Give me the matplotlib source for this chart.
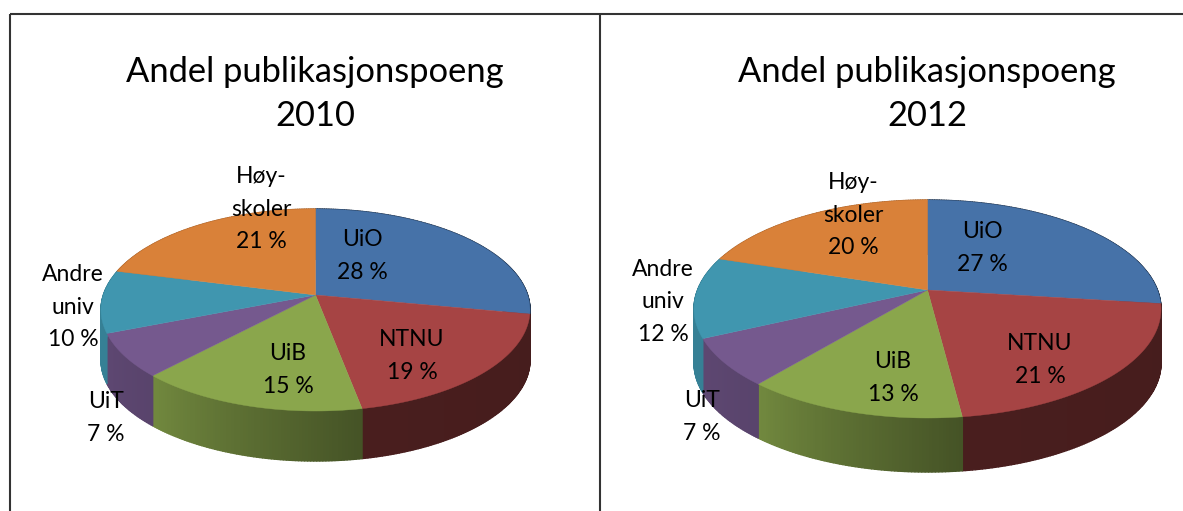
import numpy as np
import matplotlib
matplotlib.use("Agg")
import matplotlib.pyplot as plt
from matplotlib.collections import PolyCollection
from matplotlib.colors import to_rgb

plt.rcParams['font.family'] = ['Lato', 'DejaVu Sans']

# ---- data ----
categories = ["UiO", "NTNU", "UiB", "UiT", "Andre\nuniv", "Høy-\nskoler"]
values_2010 = [28, 19, 15, 7, 10, 21]
values_2012 = [27, 21, 13, 7, 12, 20]
title_2010 = "Andel publikasjonspoeng\n2010"
title_2012 = "Andel publikasjonspoeng\n2012"

# ---- style ----
colors = ["#4672a8", "#a64444", "#8aa64c", "#75598e", "#4096af", "#d98139"]
side_shades = [(0.45, 0.45), (0.42, 0.44), (0.50, 0.82), (0.76, 0.80), (0.85, 0.85), (0.8, 0.8)]

W, H = 1183, 511
fig = plt.figure(figsize=(W / 100, H / 100), dpi=100)
ax = fig.add_axes([0, 0, 1, 1])
ax.set_xlim(0, W)
ax.set_ylim(H, 0)
ax.axis("off")


def project(theta, cx, cy, half_w, back, front):
    """Perspective mapping of the unit circle; theta clockwise from 12 o'clock."""
    k = (front - back) / (front + back)
    ry = back * (1 + k)
    rx = half_w * np.sqrt(1 - k ** 2)
    x, y = np.sin(theta), np.cos(theta)
    w = 1 + k * y
    return cx + rx * x / w, cy - ry * y / w


def draw_pie(values, cx, cy, half_w, back, front, depth):
    fractions = np.asarray(values, float) / np.sum(values)
    edges = np.concatenate([[0], np.cumsum(fractions)]) * 2 * np.pi
    side_polys, side_cols = [], []
    tops = []
    for i, col in enumerate(colors):
        n = max(int((edges[i + 1] - edges[i]) / 0.012), 2)
        th = np.linspace(edges[i], edges[i + 1], n)
        px, py = project(th, cx, cy, half_w, back, front)
        tops.append(np.vstack([[cx, cy], np.column_stack([px, py])]))
        base = np.array(to_rgb(col))
        shades = np.linspace(side_shades[i][0], side_shades[i][1], n - 1)
        for j in range(n - 1):
            side_polys.append([(px[j], py[j]), (px[j + 1], py[j + 1]),
                               (px[j + 1], py[j + 1] + depth), (px[j], py[j] + depth)])
            side_cols.append(base * shades[j])
    ax.add_collection(PolyCollection(side_polys, facecolors=side_cols,
                                     edgecolors=side_cols, linewidths=1.0))
    ax.add_collection(PolyCollection(tops, facecolors=colors, edgecolors=colors,
                                     linewidths=0.3))


draw_pie(values_2010, 315.5, 295, 214.5, 86, 116, 50)
draw_pie(values_2012, 927.5, 290, 233.5, 90, 128, 54)

label_pos_2010 = [(362, 256), (412, 356), (288, 370), (106, 418), (73, 307), (261, 209)]
label_pos_2012 = [(982, 248), (1040, 360), (893, 378), (702, 417), (663, 302), (853, 215)]

for vals, pos in ((values_2010, label_pos_2010), (values_2012, label_pos_2012)):
    for cat, v, (x, y) in zip(categories, vals, pos):
        ax.text(x, y, f"{cat}\n{v} %", ha="center", va="center", fontsize=16.5,
                color="black", linespacing=1.68)

ax.text(315, 94, title_2010, ha="center", va="center", fontsize=24.8, linespacing=1.5)
ax.text(927, 94, title_2012, ha="center", va="center", fontsize=24.8, linespacing=1.5)

# frame of the surrounding table
frame = "#333333"
ax.plot([10, 10], [511, 14], color=frame, lw=1.5, solid_capstyle="butt")
ax.plot([10, 1183], [14, 14], color=frame, lw=1.5, solid_capstyle="butt")
ax.plot([600, 600], [14, 511], color=frame, lw=1.5, solid_capstyle="butt")

fig.savefig("out.png", dpi=100)
